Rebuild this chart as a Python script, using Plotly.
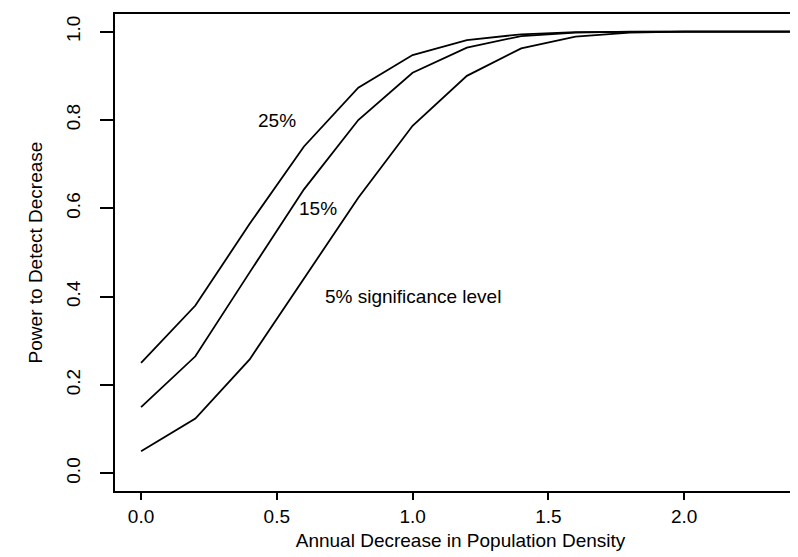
import plotly.graph_objects as go

# Data
decrease = [0.0, 0.2, 0.4, 0.6, 0.8, 1.0, 1.2, 1.4, 1.6, 1.8, 2.0, 2.2, 2.4]
power_25 = [0.25, 0.38, 0.565, 0.74, 0.873, 0.947, 0.981, 0.994, 0.999, 1.0, 1.0, 1.0, 1.0]
power_15 = [0.15, 0.265, 0.455, 0.643, 0.80, 0.907, 0.964, 0.99, 0.998, 1.0, 1.0, 1.0, 1.0]
power_05 = [0.05, 0.124, 0.258, 0.44, 0.624, 0.787, 0.90, 0.962, 0.989, 0.998, 1.0, 1.0, 1.0]

labels = ["25%", "15%", "5% significance level"]
label_x = [0.5, 0.65, 1.0]
label_y = [0.8, 0.6, 0.4]

x_ticks = [0.0, 0.5, 1.0, 1.5, 2.0]
y_ticks = [0.0, 0.2, 0.4, 0.6, 0.8, 1.0]

FONT = "Liberation Sans, Arial, Helvetica, sans-serif"

fig = go.Figure()
for ys in (power_25, power_15, power_05):
    fig.add_trace(go.Scatter(x=decrease, y=ys, mode="lines",
                             line=dict(color="black", width=1.8),
                             showlegend=False, hoverinfo="skip"))

for t, lx, ly in zip(labels, label_x, label_y):
    fig.add_annotation(x=lx, y=ly, text=t, showarrow=False,
                       xanchor="center", yanchor="middle",
                       font=dict(family=FONT, size=19, color="black"))

fig.update_layout(
    width=798, height=557,
    margin=dict(l=107, r=0, t=6, b=74),
    paper_bgcolor="white", plot_bgcolor="white",
    font=dict(family=FONT, size=19, color="black"),
    showlegend=False,
)
fig.update_xaxes(
    range=[-0.096, 2.449],
    tickvals=x_ticks, ticktext=[f"{v:.1f}" for v in x_ticks],
    ticks="outside", ticklen=7, tickwidth=1.5, tickcolor="black",
    showline=True, linecolor="black", linewidth=2, mirror=True,
    showgrid=False, zeroline=False,
    ticklabelstandoff=0,
    title=dict(text="Annual Decrease in Population Density",
               font=dict(family=FONT, size=19), standoff=8),
)
fig.update_yaxes(
    range=[-0.04, 1.04],
    tickvals=y_ticks, ticktext=[f"{v:.1f}" for v in y_ticks],
    tickangle=-90,
    ticks="outside", ticklen=13, tickwidth=1.5, tickcolor="black",
    showline=True, linecolor="black", linewidth=2,
    showgrid=False, zeroline=False,
    ticklabelstandoff=12,
    title=dict(text="Power to Detect Decrease",
               font=dict(family=FONT, size=19), standoff=16),
)

fig.write_html("out.html")
